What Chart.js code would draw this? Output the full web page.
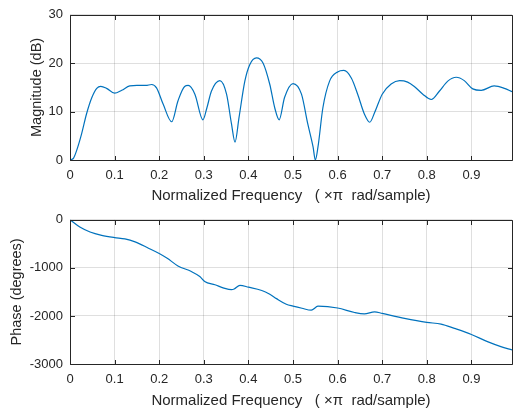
<!DOCTYPE html>
<html><head><meta charset="utf-8">
<script src="https://cdn.jsdelivr.net/npm/chart.js@4.4.0/dist/chart.umd.min.js"></script>
<style>
html,body{margin:0;padding:0;background:#fff;}
#wrap{position:relative;width:513px;height:410px;overflow:hidden;background:#fff;}
canvas{position:absolute;left:0;}
#c1{top:0;} #c2{top:205px;}
</style></head><body>
<div id="wrap"><canvas id="c1" width="513" height="205"></canvas><canvas id="c2" width="513" height="205"></canvas></div>
<script>
// ---- data ----
const magFreq = [0, 0.008, 0.015, 0.026, 0.037, 0.049, 0.06, 0.069, 0.082, 0.1, 0.116, 0.134, 0.15, 0.17, 0.183, 0.194, 0.209, 0.228, 0.242, 0.257, 0.265, 0.28, 0.298, 0.307, 0.317, 0.336, 0.351, 0.362, 0.37, 0.379, 0.392, 0.403, 0.418, 0.433, 0.448, 0.459, 0.469, 0.481, 0.5, 0.519, 0.533, 0.545, 0.55, 0.556, 0.567, 0.582, 0.6, 0.614, 0.631, 0.645, 0.66, 0.672, 0.683, 0.7, 0.72, 0.739, 0.757, 0.772, 0.791, 0.81, 0.828, 0.847, 0.866, 0.884, 0.903, 0.922, 0.951, 0.974, 0.991];
const magDb = [0, 0.4, 2.0, 5.4, 9.5, 12.9, 14.8, 15.2, 14.8, 13.8, 14.4, 15.3, 15.4, 15.4, 15.6, 14.9, 11.5, 7.9, 12.2, 15.2, 15.4, 13.6, 8.3, 10.8, 14.2, 16.4, 13.6, 7.5, 3.7, 8.8, 16.3, 19.7, 21.1, 20.0, 15.6, 10.8, 8.3, 12.9, 15.8, 13.6, 7.5, 2.7, 0.0, 2.7, 10.8, 16.3, 18.2, 18.5, 16.9, 13.6, 9.5, 7.8, 9.8, 13.6, 15.7, 16.4, 16.1, 15.2, 13.6, 12.5, 14.2, 16.3, 17.1, 16.4, 14.7, 14.4, 15.3, 14.8, 14.1];
const phaseFreq = [0, 0.022, 0.045, 0.071, 0.1, 0.123, 0.146, 0.175, 0.2, 0.218, 0.242, 0.272, 0.291, 0.302, 0.325, 0.345, 0.362, 0.368, 0.381, 0.4, 0.43, 0.448, 0.463, 0.485, 0.5, 0.52, 0.541, 0.556, 0.6, 0.638, 0.66, 0.683, 0.7, 0.75, 0.8, 0.832, 0.862, 0.9, 0.936, 0.966, 0.991];
const phaseDeg = [0, -151, -254, -323, -370, -397, -460, -585, -700, -800, -960, -1076, -1180, -1283, -1352, -1420, -1453, -1440, -1364, -1400, -1470, -1550, -1640, -1756, -1795, -1840, -1880, -1798, -1835, -1928, -1956, -1914, -1948, -2052, -2135, -2169, -2259, -2385, -2535, -2638, -2707];
const freqTicks = [0, 0.1, 0.2, 0.3, 0.4, 0.5, 0.6, 0.7, 0.8, 0.9];
const magTicks = [0, 10, 20, 30];
const phaseTicks = [-3000, -2000, -1000, 0];
const xLabel = 'Normalized Frequency   ( \u00d7\u03c0  rad/sample)';
const magLabel = 'Magnitude (dB)';
const phaseLabel = 'Phase (degrees)';

const FAM = '"Liberation Sans", Arial, Helvetica, sans-serif';
const TXT = '#262626';
const GRID = 'rgba(38,38,38,0.15)';
const LINE = '#0072BD';

const boxPlugin = {
  id: 'box',
  afterDatasetsDraw(chart) {
    const {ctx, chartArea: a, scales: {x, y}} = chart;
    ctx.save();
    ctx.strokeStyle = TXT; ctx.lineWidth = 1;
    const L = Math.round(a.left) + 0.5, R = Math.round(a.right) + 0.5,
          T = Math.round(a.top) + 0.5, B = Math.round(a.bottom) + 0.5;
    const tl = 4.5;
    ctx.beginPath();
    ctx.rect(L, T, R - L, B - T);
    x.ticks.forEach(t => {
      const px = Math.round(x.getPixelForValue(t.value)) + 0.5;
      ctx.moveTo(px, B); ctx.lineTo(px, B - tl);
      ctx.moveTo(px, T); ctx.lineTo(px, T + tl);
    });
    y.ticks.forEach(t => {
      const py = Math.round(y.getPixelForValue(t.value)) + 0.5;
      ctx.moveTo(L, py); ctx.lineTo(L + tl, py);
      ctx.moveTo(R, py); ctx.lineTo(R - tl, py);
    });
    ctx.stroke();
    ctx.restore();
  }
};

function makeChart(id, xs, ys, yTicks, yTitle, yTitlePad, padTop, xHeight) {
  return new Chart(document.getElementById(id), {
    type: 'line',
    data: { datasets: [{
      data: xs.map((v, i) => ({x: v, y: ys[i]})),
      borderColor: LINE, borderWidth: 1.2, pointRadius: 0,
      cubicInterpolationMode: 'monotone', fill: false
    }]},
    options: {
      responsive: false, animation: false, devicePixelRatio: 1,
      layout: {padding: {top: padTop, right: 1, left: 0, bottom: 0}},
      plugins: {legend: {display: false}, tooltip: {enabled: false}},
      scales: {
        x: {
          type: 'linear', min: 0, max: 0.991,
          afterBuildTicks: s => { s.ticks = freqTicks.map(v => ({value: v})); },
          afterFit: s => { s.height = xHeight; },
          grid: {color: GRID, drawTicks: false},
          border: {display: false},
          ticks: {padding: 8, color: TXT, font: {family: FAM, size: 13}, maxRotation: 0, autoSkip: false, callback: v => String(v)},
          title: {display: true, text: xLabel, color: TXT, font: {family: FAM, size: 15}, padding: {top: 0, bottom: 0}}
        },
        y: {
          type: 'linear', min: yTicks[0], max: yTicks[yTicks.length - 1],
          afterBuildTicks: s => { s.ticks = yTicks.map(v => ({value: v})); },
          afterFit: s => { s.width = 70; },
          grid: {color: GRID, drawTicks: false},
          border: {display: false},
          ticks: {padding: 7, color: TXT, font: {family: FAM, size: 13}, autoSkip: false, callback: v => String(v)},
          title: {display: true, text: yTitle, color: TXT, font: {family: FAM, size: 14.5}, padding: {top: yTitlePad, bottom: 0}}
        }
      }
    },
    plugins: [boxPlugin]
  });
}

makeChart('c1', magFreq, magDb, magTicks, magLabel, 28, 12, 45);
makeChart('c2', phaseFreq, phaseDeg, phaseTicks, phaseLabel, 8, 14, 46);
</script>
</body></html>
